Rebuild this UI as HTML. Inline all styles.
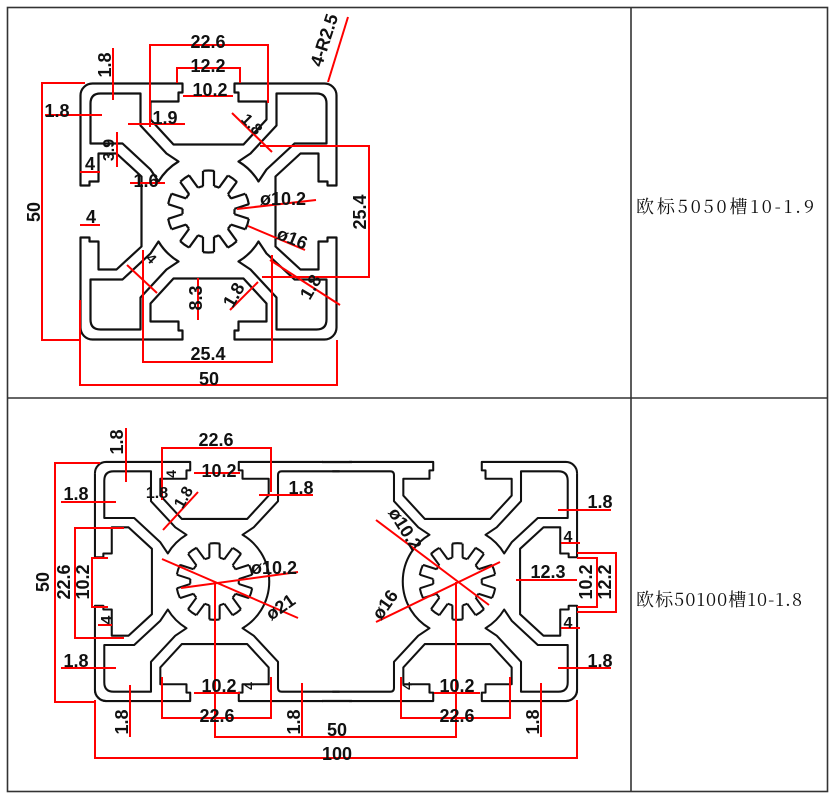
<!DOCTYPE html>
<html><head><meta charset="utf-8">
<style>
html,body{margin:0;padding:0;background:#fff;}
svg{display:block;}
.t{font-family:"Liberation Sans",sans-serif;font-weight:bold;font-size:18px;fill:#111;}
.r{stroke:#f00;stroke-width:2;fill:none;}
.p{stroke:#111;stroke-width:2.2;fill:none;stroke-linejoin:round;}
.cn{font-family:"Noto Serif CJK SC","Liberation Serif",serif;font-size:18px;fill:#111;}
</style></head>
<body>
<svg width="834" height="800" viewBox="0 0 834 800" xmlns="http://www.w3.org/2000/svg">
<defs>
  <path id="side" d="M -128 -116 A 12 12 0 0 1 -116 -128 L -26 -128 L -26 -119 L -30 -119 L -30 -110 L -58 -110 L -58 -92 L -35 -67 L 35 -67 L 58 -92 L 58 -110 L 30 -110 L 30 -119 L 26 -119 L 26 -128 L 116 -128"/>
  <path id="cav" d="M -118 -108 Q -118 -118 -108 -118 L -68 -118 L -68 -86 L -42 -58 L -30 -50 A 58 58 0 0 0 -50 -30 L -58 -42 L -86 -68 L -118 -68 Z"/>
  <path id="mid" d="M 134 -118 L 72 -118 Q 68 -118 68 -114 L 68 -86 L 42 -58 L 30 -50 A 58 58 0 0 1 30 50 L 42 58 L 68 86 L 68 114 Q 68 118 72 118 L 134 118"/>
  <path id="side2" d="M -5.5 -25.4 L -5.5 -40.6 M 5.5 -25.4 L 5.5 -40.6" fill="none" stroke="#111" stroke-width="2.2"/>
  <g id="star">
    <circle r="41" fill="none" stroke="#111" stroke-width="2.2" stroke-dasharray="11 14.76" stroke-dashoffset="-7.37"/>
    <circle r="26" fill="none" stroke="#111" stroke-width="2.2" stroke-dasharray="5.27 11.07" stroke-dashoffset="-13.71"/>
    <use href="#side2"/>
    <use href="#side2" transform="rotate(36)"/>
    <use href="#side2" transform="rotate(72)"/>
    <use href="#side2" transform="rotate(108)"/>
    <use href="#side2" transform="rotate(144)"/>
    <use href="#side2" transform="rotate(180)"/>
    <use href="#side2" transform="rotate(216)"/>
    <use href="#side2" transform="rotate(252)"/>
    <use href="#side2" transform="rotate(288)"/>
    <use href="#side2" transform="rotate(324)"/>
  </g>
</defs>

<g stroke="#333" stroke-width="1.6" fill="none">
  <rect x="7.5" y="7.5" width="820" height="784"/>
  <line x1="631" y1="7.5" x2="631" y2="791.5"/>
  <line x1="7.5" y1="398" x2="827.5" y2="398"/>
</g>

<text class="cn" x="636" y="213" textLength="178" lengthAdjust="spacing">欧标5050槽10-1.9</text>
<text class="cn" x="636" y="606" textLength="166" lengthAdjust="spacing">欧标50100槽10-1.8</text>

<!-- ===== 5050 profile ===== -->
<g transform="translate(208.5,211.5)">
  <g class="p">
    <use href="#side"/>
    <use href="#side" transform="rotate(90)"/>
    <use href="#side" transform="rotate(180)"/>
    <use href="#side" transform="rotate(270)"/>
    <use href="#cav"/>
    <use href="#cav" transform="rotate(90)"/>
    <use href="#cav" transform="rotate(180)"/>
    <use href="#cav" transform="rotate(270)"/>
  </g>
  <use href="#star"/>
</g>

<g class="r">
  <polyline points="150,127 150,45 268,45 268,103"/>
  <polyline points="177,83 177,68 240,68 240,83"/>
  <line x1="183" y1="96" x2="233" y2="96"/>
  <line x1="348" y1="17" x2="328" y2="82"/>
  <polyline points="85,83 42,83 42,340 80,340"/>
  <line x1="113" y1="48" x2="113" y2="100"/>
  <line x1="45" y1="115" x2="102" y2="115"/>
  <line x1="128" y1="124" x2="185" y2="124"/>
  <line x1="232" y1="113" x2="272" y2="152"/>
  <line x1="117" y1="132" x2="117" y2="167"/>
  <line x1="80" y1="172" x2="100" y2="172"/>
  <line x1="80" y1="225" x2="100" y2="225"/>
  <line x1="130" y1="183" x2="165" y2="183"/>
  <line x1="237" y1="209" x2="316" y2="200"/>
  <line x1="248" y1="226" x2="305" y2="250"/>
  <polyline points="260,146 369,146 369,277 262,277"/>
  <polyline points="143,250 143,362 272,362 272,255"/>
  <polyline points="80,300 80,385 337,385 337,340"/>
  <line x1="198" y1="278" x2="198" y2="320"/>
  <line x1="230" y1="310" x2="258" y2="282"/>
  <line x1="270" y1="260" x2="340" y2="305"/>
  <line x1="127" y1="265" x2="157" y2="293"/>
</g>
<g class="t">
  <text x="208" y="48" text-anchor="middle">22.6</text>
  <text x="208" y="72" text-anchor="middle">12.2</text>
  <text x="210" y="96" text-anchor="middle">10.2</text>
  <text x="0" y="0" transform="translate(330,42) rotate(-72)" text-anchor="middle">4-R2.5</text>
  <text x="0" y="0" transform="translate(40,212) rotate(-90)" text-anchor="middle">50</text>
  <text x="0" y="0" transform="translate(111,65) rotate(-90)" text-anchor="middle">1.8</text>
  <text x="57" y="117" text-anchor="middle">1.8</text>
  <text x="165" y="124" text-anchor="middle">1.9</text>
  <text x="0" y="0" transform="translate(248,128) rotate(45)" text-anchor="middle" font-size="16">1.8</text>
  <text x="0" y="0" transform="translate(114,150) rotate(-90)" text-anchor="middle" font-size="16">3.9</text>
  <text x="90" y="170" text-anchor="middle">4</text>
  <text x="91" y="223" text-anchor="middle">4</text>
  <text x="146" y="187" text-anchor="middle">1.6</text>
  <text x="283" y="205" text-anchor="middle">ø10.2</text>
  <text x="0" y="0" transform="translate(290,244) rotate(22)" text-anchor="middle">ø16</text>
  <text x="0" y="0" transform="translate(366,212) rotate(-90)" text-anchor="middle">25.4</text>
  <text x="208" y="360" text-anchor="middle">25.4</text>
  <text x="209" y="385" text-anchor="middle">50</text>
  <text x="0" y="0" transform="translate(202,298) rotate(-90)" text-anchor="middle">8.3</text>
  <text x="0" y="0" transform="translate(239,298) rotate(-60)" text-anchor="middle">1.8</text>
  <text x="0" y="0" transform="translate(316,290) rotate(-60)" text-anchor="middle">1.8</text>
  <text x="0" y="0" transform="translate(148,262) rotate(45)" text-anchor="middle" font-size="14">4</text>
</g>

<!-- ===== 50100 profile ===== -->
<g class="p">
  <line x1="322" y1="462" x2="352" y2="462"/>
  <line x1="322" y1="701" x2="352" y2="701"/>
</g>
<g transform="translate(214.5,581.5) scale(0.934)">
  <g class="p">
    <use href="#side"/>
    <use href="#side" transform="rotate(-90)"/>
    <use href="#side" transform="scale(1,-1)"/>
    <use href="#cav"/>
    <use href="#cav" transform="scale(1,-1)"/>
    <use href="#mid"/>
  </g>
  <use href="#star"/>
</g>
<g transform="translate(457.5,581.5) scale(-0.934,0.934)">
  <g class="p">
    <use href="#side"/>
    <use href="#side" transform="rotate(-90)"/>
    <use href="#side" transform="scale(1,-1)"/>
    <use href="#cav"/>
    <use href="#cav" transform="scale(1,-1)"/>
    <use href="#mid"/>
  </g>
  <use href="#star"/>
</g>

<g class="r">
  <polyline points="162,500 162,448 271,448 271,492"/>
  <line x1="194" y1="473" x2="240" y2="473"/>
  <line x1="126" y1="428" x2="126" y2="482"/>
  <polyline points="100,463 55,463 55,702 95,702"/>
  <polyline points="124,528 75,528 75,638 124,638"/>
  <polyline points="108,558 92,558 92,607 108,607"/>
  <line x1="61" y1="502" x2="116" y2="502"/>
  <line x1="61" y1="668" x2="116" y2="668"/>
  <line x1="98" y1="625" x2="112" y2="625"/>
  <line x1="130" y1="685" x2="130" y2="737"/>
  <line x1="163" y1="530" x2="198" y2="492"/>
  <line x1="259" y1="495" x2="313" y2="495"/>
  <line x1="162" y1="559" x2="298" y2="618"/>
  <line x1="181" y1="588" x2="298" y2="572"/>
  <line x1="194" y1="693" x2="240" y2="693"/>
  <polyline points="162,677 162,718 271,718 271,677"/>
  <line x1="302" y1="683" x2="302" y2="737"/>
  <polyline points="215,582 215,737 456,737 456,582"/>
  <polyline points="95,700 95,758 577,758 577,700"/>
  <polyline points="401,677 401,718 510,718 510,677"/>
  <line x1="434" y1="693" x2="480" y2="693"/>
  <line x1="541" y1="683" x2="541" y2="737"/>
  <line x1="558" y1="510" x2="611" y2="510"/>
  <line x1="558" y1="668" x2="611" y2="668"/>
  <line x1="561" y1="543" x2="580" y2="543"/>
  <line x1="561" y1="628" x2="580" y2="628"/>
  <line x1="516" y1="580" x2="577" y2="580"/>
  <polyline points="577,558 597,558 597,607 577,607"/>
  <polyline points="577,553 616,553 616,612 577,612"/>
  <line x1="376" y1="520" x2="489" y2="605"/>
  <line x1="376" y1="622" x2="500" y2="562"/>
</g>
<g class="t">
  <text x="216" y="446" text-anchor="middle">22.6</text>
  <text x="219" y="477" text-anchor="middle">10.2</text>
  <text x="0" y="0" transform="translate(123,442) rotate(-90)" text-anchor="middle">1.8</text>
  <text x="0" y="0" transform="translate(49,582) rotate(-90)" text-anchor="middle">50</text>
  <text x="0" y="0" transform="translate(70,582) rotate(-90)" text-anchor="middle">22.6</text>
  <text x="0" y="0" transform="translate(89,582) rotate(-90)" text-anchor="middle">10.2</text>
  <text x="76" y="500" text-anchor="middle">1.8</text>
  <text x="76" y="667" text-anchor="middle">1.8</text>
  <text x="0" y="0" transform="translate(112,620) rotate(-90)" text-anchor="middle" font-size="16">4</text>
  <text x="0" y="0" transform="translate(128,722) rotate(-90)" text-anchor="middle">1.8</text>
  <text x="157" y="498" text-anchor="middle" font-size="16">1.8</text>
  <text x="0" y="0" transform="translate(176,474) rotate(-90)" text-anchor="middle" font-size="14">4</text>
  <text x="0" y="0" transform="translate(188,500) rotate(-60)" text-anchor="middle" font-size="16">1.8</text>
  <text x="301" y="494" text-anchor="middle">1.8</text>
  <text x="274" y="574" text-anchor="middle">ø10.2</text>
  <text x="0" y="0" transform="translate(284,612) rotate(-35)" text-anchor="middle">ø21</text>
  <text x="219" y="692" text-anchor="middle">10.2</text>
  <text x="0" y="0" transform="translate(254,686) rotate(-90)" text-anchor="middle" font-size="14">4</text>
  <text x="217" y="722" text-anchor="middle">22.6</text>
  <text x="0" y="0" transform="translate(300,722) rotate(-90)" text-anchor="middle">1.8</text>
  <text x="337" y="736" text-anchor="middle">50</text>
  <text x="337" y="760" text-anchor="middle">100</text>
  <text x="457" y="692" text-anchor="middle">10.2</text>
  <text x="0" y="0" transform="translate(412,686) rotate(-90)" text-anchor="middle" font-size="14">4</text>
  <text x="457" y="722" text-anchor="middle">22.6</text>
  <text x="0" y="0" transform="translate(539,722) rotate(-90)" text-anchor="middle">1.8</text>
  <text x="600" y="508" text-anchor="middle">1.8</text>
  <text x="600" y="667" text-anchor="middle">1.8</text>
  <text x="568" y="542" text-anchor="middle" font-size="16">4</text>
  <text x="568" y="628" text-anchor="middle" font-size="16">4</text>
  <text x="548" y="578" text-anchor="middle">12.3</text>
  <text x="0" y="0" transform="translate(592,582) rotate(-90)" text-anchor="middle">10.2</text>
  <text x="0" y="0" transform="translate(611,582) rotate(-90)" text-anchor="middle">12.2</text>
  <text x="0" y="0" transform="translate(400,532) rotate(58)" text-anchor="middle">ø10.2</text>
  <text x="0" y="0" transform="translate(390,608) rotate(-55)" text-anchor="middle">ø16</text>
</g>
</svg>
</body></html>
